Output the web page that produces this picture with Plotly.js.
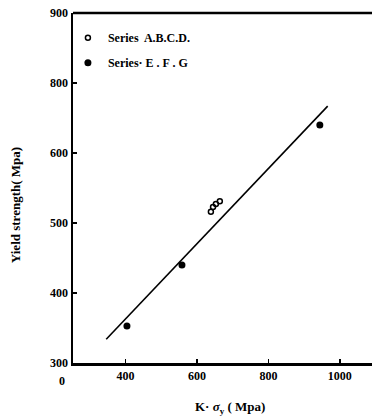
<!DOCTYPE html>
<html><head><meta charset="utf-8">
<script src="https://cdn.plot.ly/plotly-3.0.1.min.js"></script>
<style>html,body{margin:0;padding:0;background:#fff}#chart{width:374px;height:419px}</style>
</head><body><div id="chart"></div>
<script>
// Series A.B.C.D. (open circles)
const openX = [639, 645, 653, 664];
const openY = [516, 523, 527, 531];
// Series E, F, G (filled circles)
const filledX = [404, 558, 944];
const filledY = [353, 440, 640];
// Fitted line end points
const lineX = [346, 966];
const lineY = [334, 667];
// Tick values and labels
const xTickVals = [400, 600, 800, 1000];
const xTickText = ['400', '600', '800', '1000'];
const yTickVals = [300, 400, 500, 600, 700, 800];
const yTickText = ['300', '400', '500', '600', '800', '900'];

const serif = 'Liberation Serif, DejaVu Serif, serif';
const data = [
  {x: lineX, y: lineY, mode: 'lines', line: {color: '#000', width: 1.6}, showlegend: false, hoverinfo: 'skip'},
  {x: openX, y: openY, mode: 'markers', name: 'Series  A.B.C.D.', legendgroup: 'a',
   marker: {symbol: 'circle-open', size: 5, color: '#000', line: {width: 1.5, color: '#000'}}},
  {x: filledX, y: filledY, mode: 'markers', name: 'Series· E . F . G', legendgroup: 'b',
   marker: {symbol: 'circle', size: 7, color: '#000'}}
];
const layout = {
  width: 374, height: 419,
  margin: {l: 73, r: 2, t: 13, b: 56},
  paper_bgcolor: '#fff', plot_bgcolor: '#fff',
  font: {family: serif, color: '#000', size: 12},
  showlegend: true,
  legend: {x: -0.017, y: 0.971, xanchor: 'left', yanchor: 'top', bgcolor: 'rgba(0,0,0,0)',
           font: {family: serif, size: 12, weight: 'bold'}, traceorder: 'grouped', tracegroupgap: 6,
           itemwidth: 30},
  xaxis: {range: [253, 1090], showgrid: false, zeroline: false, showline: true, mirror: false,
          linecolor: '#000', linewidth: 2.5, ticks: 'inside', ticklen: 4, tickwidth: 1.5, tickcolor: '#000',
          tickvals: xTickVals, ticktext: xTickText,
          tickfont: {family: serif, size: 12, weight: 'bold'}},
  yaxis: {range: [300, 800], showgrid: false, zeroline: false, showline: true,
          linecolor: '#000', linewidth: 2.5, ticks: 'inside', ticklen: 4, tickwidth: 1.5, tickcolor: '#000',
          tickvals: yTickVals, ticktext: yTickText,
          tickfont: {family: serif, size: 12, weight: 'bold'}},
  shapes: [{type: 'line', xref: 'paper', yref: 'paper', x0: 0, x1: 1, y0: 1, y1: 1, line: {color: '#000', width: 2.5}}],
  annotations: [
    {text: '0', xref: 'paper', yref: 'paper', x: -0.037, y: -0.05, showarrow: false,
     xanchor: 'center', yanchor: 'middle', font: {family: serif, size: 12, weight: 'bold'}},
    {text: 'Yield strength( Mpa)', xref: 'paper', yref: 'paper', x: -0.194, y: 0.451, showarrow: false,
     textangle: -90, xanchor: 'center', yanchor: 'middle', font: {family: serif, size: 13, weight: 'bold'}},
    {text: 'K· <i>σ</i><sub>y</sub> ( Mpa)', xref: 'paper', yref: 'paper', x: 0.525, y: -0.126, showarrow: false,
     xanchor: 'center', yanchor: 'middle', font: {family: serif, size: 13, weight: 'bold'}}
  ]
};
Plotly.newPlot('chart', data, layout, {displayModeBar: false, staticPlot: true});
</script></body></html>
